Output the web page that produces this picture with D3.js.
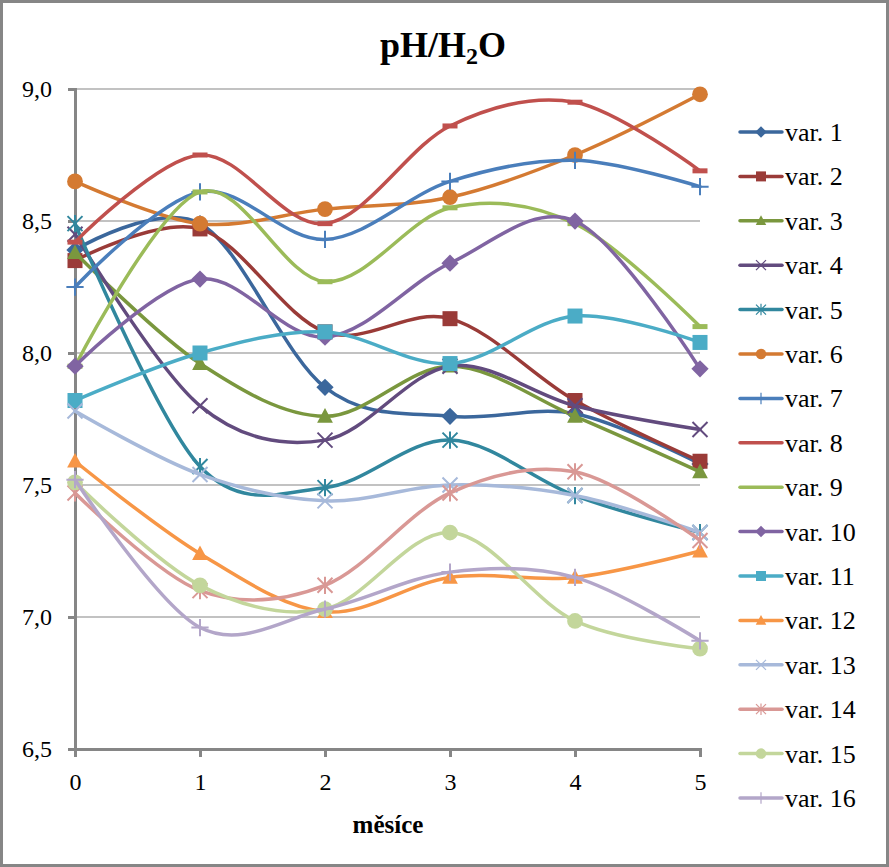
<!DOCTYPE html>
<html><head><meta charset="utf-8">
<script src="https://cdn.jsdelivr.net/npm/d3@7"></script>
<style>body{margin:0;background:#fff}svg{display:block}
text{font-family:"Liberation Serif","Times New Roman",Times,Tinos,"Noto Serif","DejaVu Serif",FreeSerif,serif;}</style>
</head><body>
<svg id="c" width="889" height="867"></svg>
<script>
const months = [0,1,2,3,4,5];
const yTicks = [6.5,7.0,7.5,8.0,8.5,9.0];
const seriesNames = ["var. 1","var. 2","var. 3","var. 4","var. 5","var. 6","var. 7","var. 8","var. 9","var. 10","var. 11","var. 12","var. 13","var. 14","var. 15","var. 16"];
const var1  = [8.39, 8.49, 7.87, 7.76, 7.77, 7.58];
const var2  = [8.35, 8.47, 8.08, 8.13, 7.82, 7.59];
const var3  = [8.38, 7.96, 7.76, 7.95, 7.76, 7.55];
const var4  = [8.45, 7.80, 7.67, 7.95, 7.80, 7.71];
const var5  = [8.49, 7.57, 7.49, 7.67, 7.46, 7.32];
const var6  = [8.65, 8.49, 8.545, 8.59, 8.75, 8.98];
const var7  = [8.25, 8.61, 8.43, 8.65, 8.73, 8.63];
const var8  = [8.42, 8.75, 8.49, 8.86, 8.95, 8.69];
const var9  = [7.95, 8.61, 8.27, 8.55, 8.49, 8.10];
const var10 = [7.95, 8.28, 8.06, 8.34, 8.50, 7.94];
const var11 = [7.82, 8.00, 8.08, 7.96, 8.14, 8.04];
const var12 = [7.59, 7.24, 7.02, 7.15, 7.15, 7.25];
const var13 = [7.78, 7.54, 7.44, 7.50, 7.46, 7.32];
const var14 = [7.47, 7.10, 7.12, 7.47, 7.55, 7.29];
const var15 = [7.51, 7.12, 7.03, 7.32, 6.985, 6.88];
const var16 = [7.52, 6.96, 7.03, 7.17, 7.15, 6.91];
const values = [var1,var2,var3,var4,var5,var6,var7,var8,var9,var10,var11,var12,var13,var14,var15,var16];
const colors = ["#3B679C","#9A3B38","#7A973E","#624B7E","#31879E","#D47A32","#4A7EBB","#C0504D","#9BBB59","#8064A2","#4BACC6","#F79646","#A7B9DA","#D99895","#C3D69B","#B3A6C9"];
const markers = ["diamond","square","triangle","x","star","circle","plus","dash","dash","diamond","square","triangle","x","star","circle","plus"];

const svg = d3.select("#c");
const grey = "#868686";

svg.append("rect").attr("x",1.5).attr("y",1.5).attr("width",886).attr("height",864)
  .attr("fill","#fff").attr("stroke",grey).attr("stroke-width",3);

const x = d3.scaleLinear().domain([0,5]).range([75,700]);
const y = d3.scaleLinear().domain([6.5,9.0]).range([749,89]);

// gridlines
svg.append("g").selectAll("line").data(yTicks.filter(d=>d>6.5)).join("line")
  .attr("x1",x(0)).attr("x2",x(5)).attr("y1",d=>y(d)).attr("y2",d=>y(d))
  .attr("stroke",grey).attr("stroke-width",1.2);

// axes
const yAxis = svg.append("g").attr("transform",`translate(${x(0)},0)`)
  .call(d3.axisLeft(y).tickValues(yTicks).tickSize(7).tickPadding(16)
    .tickFormat(d=>d3.format(".1f")(d).replace(".",",")));
const xAxis = svg.append("g").attr("transform",`translate(0,${y(6.5)})`)
  .call(d3.axisBottom(x).tickValues(months).tickSize(8).tickPadding(16).tickFormat(d3.format("d")));
[yAxis,xAxis].forEach(g=>{
  g.attr("font-size",24);
  g.select(".domain").attr("stroke",grey).attr("stroke-width",3);
  g.selectAll(".tick line").attr("stroke",grey).attr("stroke-width",3);
  g.selectAll(".tick text").attr("fill","#000");
});

// marker drawing
function drawMarker(g, type, color, s, sw){
  const h = s/2;
  if(type==="diamond"){
    g.append("path").attr("d",`M0,${-h*1.15}L${h*1.15},0L0,${h*1.15}L${-h*1.15},0Z`).attr("fill",color);
  } else if(type==="square"){
    g.append("rect").attr("x",-h).attr("y",-h).attr("width",s).attr("height",s).attr("fill",color);
  } else if(type==="triangle"){
    g.append("path").attr("d",`M0,${-h*1.1}L${h*1.05},${h*0.85}L${-h*1.05},${h*0.85}Z`).attr("fill",color);
  } else if(type==="circle"){
    g.append("circle").attr("r",h*1.05).attr("fill",color);
  } else if(type==="x"||type==="star"||type==="plus"){
    const p=[];
    if(type!=="plus"){ p.push(`M${-h},${-h}L${h},${h}`); p.push(`M${-h},${h}L${h},${-h}`); }
    if(type==="star"){ p.push(`M0,${-h*1.15}L0,${h*1.15}`); }
    if(type==="plus"){ p.push(`M0,${-h*1.15}L0,${h*1.15}`); p.push(`M${-h*1.15},0L${h*1.15},0`); }
    g.append("path").attr("d",p.join("")).attr("stroke",color).attr("stroke-width",sw).attr("fill","none");
  } else if(type==="dash"){
    g.append("rect").attr("x",-h).attr("y",-2.5).attr("width",s).attr("height",5).attr("fill",color);
  }
}

const line = d3.line().x((d,i)=>x(months[i])).y(d=>y(d)).curve(d3.curveCardinal.tension(0));
const plot = svg.append("g");
values.forEach((vals,k)=>{
  const g = plot.append("g");
  g.append("path").attr("d",line(vals)).attr("fill","none").attr("stroke",colors[k])
    .attr("stroke-width",3.5).attr("stroke-linejoin","round").attr("stroke-linecap","round");
  vals.forEach((v,i)=>{
    const mg = g.append("g").attr("transform",`translate(${x(months[i])},${y(v)})`);
    drawMarker(mg, markers[k], colors[k], 15, 2);
  });
});

// title
const title = svg.append("text").attr("x",443).attr("y",57).attr("text-anchor","middle")
  .attr("font-size",36).attr("font-weight","bold");
title.append("tspan").text("pH/H");
title.append("tspan").attr("dy",7).attr("font-size",24).text("2");
title.append("tspan").attr("dy",-7).text("O");

// x axis title
svg.append("text").attr("x",388).attr("y",833).attr("text-anchor","middle")
  .attr("font-size",25).attr("font-weight","bold").text("měsíce");

// legend
const leg = svg.append("g");
seriesNames.forEach((name,k)=>{
  const ly = 132 + k*44.4;
  const g = leg.append("g").attr("transform",`translate(0,${ly})`);
  g.append("line").attr("x1",740).attr("x2",782).attr("y1",0).attr("y2",0)
    .attr("stroke",colors[k]).attr("stroke-width",3.5).attr("stroke-linecap","round");
  const mg = g.append("g").attr("transform","translate(761,0)");
  if(markers[k]!=="dash") drawMarker(mg, markers[k], colors[k], 10, 1.2);
  g.append("text").attr("x",785).attr("y",9).attr("font-size",26).text(name);
});
</script>
</body></html>
